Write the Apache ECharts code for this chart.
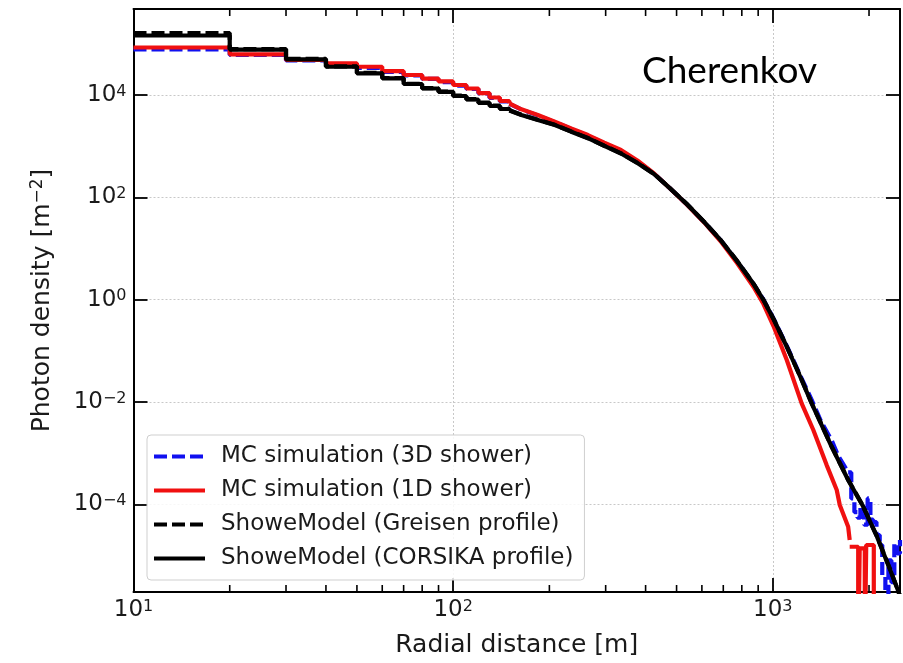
<!DOCTYPE html>
<html>
<head>
<meta charset="utf-8">
<script src="https://cdn.jsdelivr.net/npm/echarts@6/dist/echarts.min.js"></script>
<style>
html,body{margin:0;padding:0;background:#fff;}
#chart{width:903px;height:663px;}
</style>
</head>
<body>
<div id="chart"></div>
<script>
// ---------- data ----------
const X_MIN = 10, X_MAX = 2500;
const Y_MIN = 1.93e-6, Y_MAX = 4.8e5;
const ZERO = 1e-7; // empty histogram bins (below the visible log range)

const xMajorTicks = [10, 100, 1000];
const xMinorTicks = [20, 30, 40, 50, 60, 70, 80, 90, 200, 300, 400, 500, 600, 700, 800, 900, 2000];
const yMajorTicks = [1e-4, 1e-2, 1, 1e2, 1e4];

const seriesNames = ['MC simulation (3D shower)', 'MC simulation (1D shower)',
                     'ShoweModel (Greisen profile)', 'ShoweModel (CORSIKA profile)'];

// histogram bin edges (m) at small radii
const binEdges = [10, 20, 30, 40, 50, 60, 70, 80, 90, 100, 110, 120, 130, 140, 150];
const bins3D      = [78300, 60500, 47300, 40400, 33700, 28200, 24100, 20600, 17900, 15300, 13100, 10700, 8750, 7470];
const bins1D      = [84900, 62500, 48300, 41700, 35700, 29400, 24600, 21000, 18400, 15700, 13400, 10900, 8940, 7640];
const binsGreisen = [163000, 79000, 50800, 36300, 27000, 21500, 16600, 13600, 11700, 9700, 8280, 7070, 6180, 5400];
const binsCorsika = [145600, 77200, 49900, 35700, 26600, 21200, 16400, 13400, 11500, 9570, 8170, 6980, 6100, 5330];

// larger radii (fine bins, read as a curve)
const radius3D  = [150, 163.5, 184, 208, 234, 264, 297, 335, 377, 425, 479, 540, 608, 686, 773, 871, 935, 1005, 1106, 1216, 1323, 1420, 1527, 1600, 1721];
const density3D = [6700, 5200, 4000, 2950, 2180, 1600, 1130, 800, 500, 290, 146, 71.5, 33.5, 14.6, 5.6, 2.0, 1.0, 0.43, 0.125, 0.034, 0.011, 4.0e-3, 1.8e-3, 9e-4, 4.2e-4];
const tailRadius3D  = [1721, 1760, 1800, 1840, 1880, 1930, 1980, 2020, 2060, 2110, 2160, 2200, 2250, 2300, 2350, 2400, 2450, 2500];
const tailDensity3D = [4.2e-4, 1.3e-4, 7e-5, 5.5e-5, 9e-5, 4e-5, 1.3e-4, 5e-5, 4.5e-5, 2.5e-5, 1.6e-5, 4e-6, ZERO, 8e-6, 3e-6, 1.7e-5, 1.1e-5, 2e-5];

const radius1D  = [150, 163.5, 184, 208, 234, 264, 297, 335, 377, 425, 479, 540, 608, 686, 773, 871, 935, 1005, 1106, 1231, 1339, 1473, 1585, 1620, 1721, 1740];
const density1D = [6820, 5260, 4070, 3010, 2230, 1650, 1170, 842, 525, 292, 146, 70.8, 33, 14.0, 5.2, 1.77, 0.82, 0.305, 0.066, 9.4e-3, 2.83e-3, 5.9e-4, 1.9e-4, 9.7e-5, 3.65e-5, 2.0e-5];
const tailRadius1D  = [1740, 1850, 1870, 1940, 1960, 2070, 2500];
const tailDensity1D = [1.48e-5, ZERO, 1.38e-5, ZERO, 1.6e-5, ZERO, ZERO];

const radiusModel   = [150, 163.5, 184, 208, 234, 264, 297, 335, 377, 425, 479, 540, 608, 686, 773, 871, 935, 1005, 1106, 1216, 1323, 1527, 1721, 1906, 2118, 2330, 2462, 2500];
const densityGreisen = [5050, 4100, 3280, 2610, 1940, 1440, 1020, 725, 472, 288, 147, 72.8, 33.9, 14.8, 5.72, 2.03, 0.99, 0.42, 0.121, 0.0325, 0.0095, 1.36e-3, 3.0e-4, 9.8e-5, 2.35e-5, 5.3e-6, 2.1e-6, 1.6e-6];
const densityCorsika = [4980, 4070, 3250, 2590, 1920, 1430, 1010, 719, 469, 286, 146, 72.4, 33.7, 14.7, 5.69, 2.02, 0.985, 0.419, 0.120, 0.0322, 0.0094, 1.34e-3, 2.99e-4, 9.7e-5, 2.33e-5, 5.2e-6, 2.1e-6, 1.6e-6];

// ---------- helpers ----------
const FONT = 'DejaVu Sans';
const TXT = '#1a1a1a';
const pairs = (xs, ys) => xs.map((x, i) => [x, ys[i]]);
const histo = (vals, nextVal) => binEdges.slice(0, vals.length).map((e, i) => [e, vals[i]])
                                       .concat([[binEdges[vals.length], nextVal]]);
const sup = v => {
  const e = Math.round(Math.log10(v));
  return String(e).replace('-', '\u2212');
};
const isTick = (v, list) => list.some(t => Math.abs(Math.log10(v) - Math.log10(t)) < 1e-6);
const richLabel = {
  b: {fontFamily: FONT, fontSize: 23, color: TXT, lineHeight: 23, verticalAlign: 'bottom'},
  s: {fontFamily: FONT, fontSize: 16, color: TXT, lineHeight: 16, verticalAlign: 'top', padding: [0, 0, 10, 0]}
};

const COLORS = ['#1010f0', '#f01010', '#000000', '#000000'];
const LW = 4.2;
const DASH = [13, 5];
function lineSeries(idx, data, step) {
  return {
    name: seriesNames[idx], type: 'line', data: data, step: step || false,
    showSymbol: false, symbol: 'none', clip: true, silent: true,
    lineStyle: {color: COLORS[idx], width: LW, type: (idx === 0 || idx === 2) ? DASH : 'solid', cap: 'butt'},
    itemStyle: {color: COLORS[idx]}
  };
}

const series = [
  lineSeries(0, histo(bins3D, density3D[0]), 'end'),
  lineSeries(0, pairs(radius3D, density3D)),
  lineSeries(0, pairs(tailRadius3D, tailDensity3D), 'end'),
  lineSeries(1, histo(bins1D, density1D[0]), 'end'),
  lineSeries(1, pairs(radius1D, density1D)),
  lineSeries(1, pairs(tailRadius1D, tailDensity1D), 'end'),
  lineSeries(2, histo(binsGreisen, densityGreisen[0]), 'end'),
  lineSeries(2, pairs(radiusModel, densityGreisen)),
  lineSeries(3, histo(binsCorsika, densityCorsika[0]), 'end'),
  lineSeries(3, pairs(radiusModel, densityCorsika)),
  {
    type: 'custom', silent: true, clip: false, z: 10,
    data: xMinorTicks.map(v => [v]),
    encode: {x: 0},
    renderItem: function (params, api) {
      const x = api.value(0);
      const b = api.coord([x, Y_MIN]);
      const t = api.coord([x, Y_MAX]);
      const st = {stroke: '#000', lineWidth: 1.6};
      return {type: 'group', children: [
        {type: 'line', shape: {x1: b[0], y1: b[1], x2: b[0], y2: b[1] - 7}, style: st},
        {type: 'line', shape: {x1: t[0], y1: t[1], x2: t[0], y2: t[1] + 7}, style: st}
      ]};
    }
  }
];

const axisLineStyle = {show: true, lineStyle: {color: '#000', width: 2}};
const majorTick = {show: true, inside: true, length: 14, lineStyle: {color: '#000', width: 1.8}};
const gridLine = {show: true, lineStyle: {color: '#c8c8c8', width: 1, type: [2, 2]}};

const chart = echarts.init(document.getElementById('chart'), null, {renderer: 'canvas'});
chart.setOption({
  animation: false,
  backgroundColor: '#ffffff',
  grid: {left: 133.5, top: 9, width: 770.3, height: 583, containLabel: false},
  xAxis: [{
    type: 'log', logBase: 10, min: X_MIN, max: X_MAX, position: 'bottom',
    axisLine: axisLineStyle, axisTick: majorTick, splitLine: gridLine,
    axisLabel: {
      margin: 7, showMinLabel: true, showMaxLabel: true,
      formatter: v => isTick(v, xMajorTicks) ? '{b|10}{s|' + sup(v) + '}' : '',
      rich: richLabel
    },
    name: 'Radial distance [m]', nameLocation: 'middle', nameGap: 41,
    nameTextStyle: {fontFamily: FONT, fontSize: 25, color: TXT}
  }, {
    type: 'log', logBase: 10, min: X_MIN, max: X_MAX, position: 'top',
    axisLine: axisLineStyle, axisTick: majorTick, splitLine: {show: false},
    axisLabel: {show: false}
  }],
  yAxis: [{
    type: 'log', logBase: 100, min: Y_MIN, max: Y_MAX, position: 'left',
    axisLine: axisLineStyle, axisTick: majorTick, splitLine: gridLine,
    axisLabel: {
      margin: 7, showMinLabel: true, showMaxLabel: true,
      formatter: v => isTick(v, yMajorTicks) ? '{b|10}{s|' + sup(v) + '}' : '',
      rich: richLabel
    },
    name: '{a|Photon density [m}{s|\u22122}{a|]}', nameLocation: 'middle', nameGap: 79,
    nameTextStyle: {
      rich: {
        a: {fontFamily: FONT, fontSize: 25, color: TXT, lineHeight: 25, verticalAlign: 'bottom'},
        s: {fontFamily: FONT, fontSize: 17, color: TXT, lineHeight: 17, verticalAlign: 'top', padding: [0, 0, 11, 0]}
      }
    }
  }, {
    type: 'log', logBase: 100, min: Y_MIN, max: Y_MAX, position: 'right',
    axisLine: axisLineStyle, axisTick: majorTick, splitLine: {show: false},
    axisLabel: {show: false}
  }],
  legend: {
    data: seriesNames,
    orient: 'vertical', left: 147, top: 435,
    itemWidth: 51, itemHeight: 23, itemGap: 11,
    padding: [10, 11, 10, 5],
    backgroundColor: 'rgba(255,255,255,0.85)',
    borderColor: '#cfcfcf', borderWidth: 1, borderRadius: 4,
    itemStyle: {opacity: 0},
    lineStyle: {width: 4},
    textStyle: {fontFamily: FONT, fontSize: 23, color: TXT, padding: [0, 0, 0, 11]},
    selectedMode: false
  },
  graphic: [{
    type: 'text', left: 642, top: 53, z: 20,
    style: {text: 'Cherenkov', font: '37px Lato', fill: '#000'}
  }],
  series: series
});
</script>
</body>
</html>
